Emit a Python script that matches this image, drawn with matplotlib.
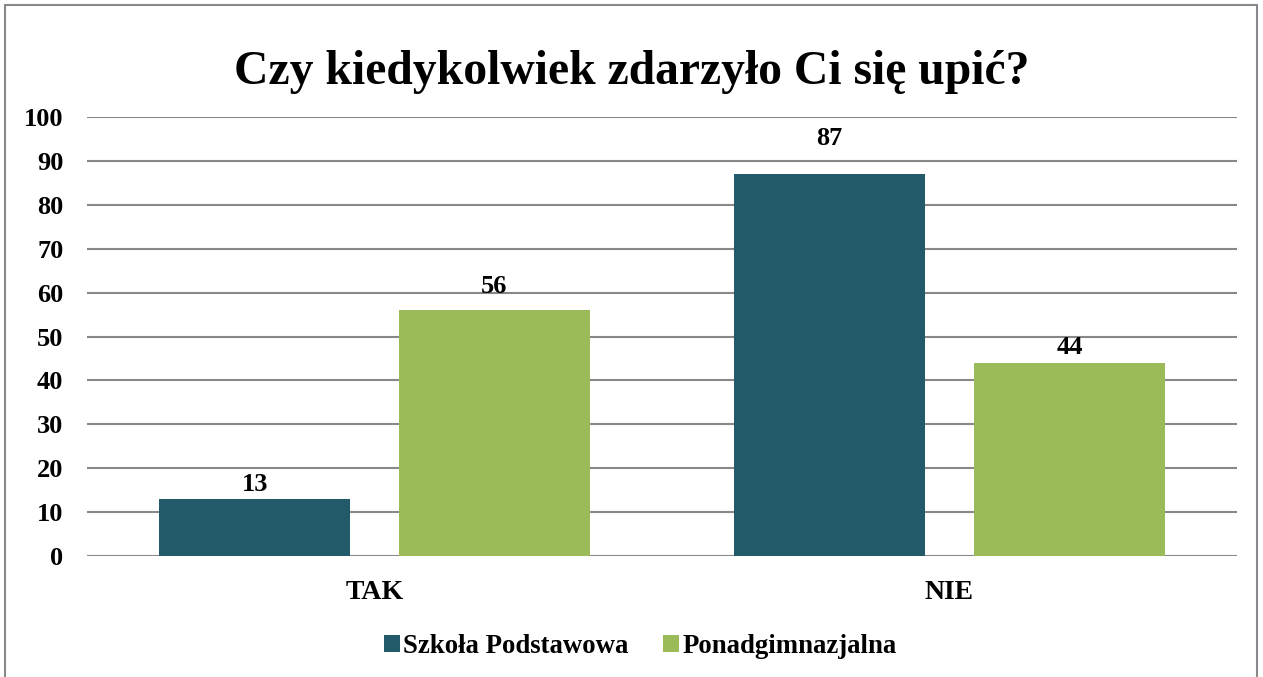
import matplotlib
matplotlib.use('Agg')
from matplotlib import pyplot as plt
from matplotlib.patches import Rectangle
import numpy as np

plt.rcParams['font.family'] = ['Liberation Serif', 'DejaVu Serif']
plt.rcParams['font.weight'] = 'bold'

title = 'Czy kiedykolwiek zdarzyło Ci się upić?'
categories = ['TAK', 'NIE']
series_names = ['Szkoła Podstawowa', 'Ponadgimnazjalna']
szkola = [13, 87]
ponad = [56, 44]
colors = ['#235A69', '#9BBB59']
label_pad = [[2, 17], [9, 3]]  # points above bar, per series/category

fig = plt.figure(figsize=(12.63, 6.77), dpi=100)
ax = fig.add_axes([0.0689, 0.1787, 0.9105, 0.6485])

x = np.arange(len(categories))
w = 0.332
off = 0.2085
for i, (vals, name) in enumerate(zip([szkola, ponad], series_names)):
    pos = x + (-off if i == 0 else off)
    ax.bar(pos, vals, width=w, color=colors[i], label=name, zorder=3)
    for j, (p, v) in enumerate(zip(pos, vals)):
        ax.annotate(str(v), (p, v), xytext=(0, label_pad[i][j]),
                    textcoords='offset points', ha='center', va='bottom',
                    fontsize=19, fontweight='bold')

ax.set_xlim(-0.5, 1.5)
ax.set_ylim(0, 100)
ax.set_yticks(range(0, 101, 10))
ax.set_xticks(x)
ax.set_xticklabels(categories)
ax.tick_params(axis='both', length=0, labelsize=19)
ax.tick_params(axis='x', labelsize=20, pad=17)
ax.tick_params(axis='y', pad=17)
ax.grid(axis='y', color='#888888', linewidth=1.5, zorder=0)
for s in ax.spines.values():
    s.set_visible(False)

fig.text(0.5, 0.893, title, ha='center', va='center', fontsize=34.3, fontweight='bold')

fig.legend(loc='center', bbox_to_anchor=(0.507, 0.045), ncol=2, frameon=False,
           fontsize=19.3, handlelength=0.6, handleheight=0.6, handletextpad=0.1,
           columnspacing=1.3)

fig.patches.append(Rectangle((5 / 1263, -0.01), 1252 / 1263, 1 - 5 / 677 + 0.01,
                             transform=fig.transFigure, fill=False,
                             edgecolor='#888888', linewidth=1.5))

fig.savefig('out.png', dpi=100)
